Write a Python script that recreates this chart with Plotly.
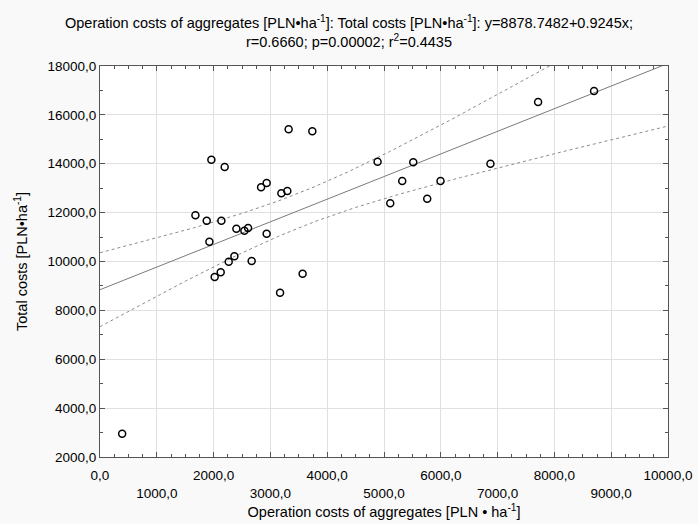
import numpy as np
import plotly.graph_objects as go

# Data
op_costs = [3321, 3738, 1961, 2195, 2836, 2934, 3193, 3298, 4887, 5321, 5110,
            1680, 1879, 2137, 2401, 2542, 2607, 2934, 1926, 2366, 2266, 2670,
            2125, 2019, 3567, 3170, 5515, 5995, 5761, 6874, 7713, 8698, 390]
total_costs = [15410, 15328, 14166, 13867, 13036, 13212, 12791, 12885, 14084, 13294, 12382,
               11891, 11670, 11670, 11342, 11260, 11371, 11138, 10810, 10213, 9992, 10021,
               9558, 9366, 9501, 8723, 14059, 13294, 12570, 14002, 16527, 16977, 2954]

x_ticks = [0, 1000, 2000, 3000, 4000, 5000, 6000, 7000, 8000, 9000, 10000]
y_ticks = [2000, 4000, 6000, 8000, 10000, 12000, 14000, 16000, 18000]

x = np.array(op_costs, float)
y = np.array(total_costs, float)
n = len(x)
slope, intercept = np.polyfit(x, y, 1)
resid = y - (intercept + slope * x)
s = np.sqrt(np.sum(resid ** 2) / (n - 2))
t_val = 2.0395
xm = x.mean()
sxx = np.sum((x - xm) ** 2)
xs = np.linspace(0, 10000, 201)
ys = intercept + slope * xs
half = t_val * s * np.sqrt(1.0 / n + (xs - xm) ** 2 / sxx)

def fmt(v):
    return f"{v:.1f}".replace(".", ",")

x_text = [fmt(v) if i % 2 == 0 else "<br>" + fmt(v) for i, v in enumerate(x_ticks)]
y_text = [fmt(v) for v in y_ticks]

fig = go.Figure()
fig.add_trace(go.Scatter(x=xs, y=ys + half, mode="lines",
                         line=dict(color="#8c8c8c", width=1, dash="dot"), hoverinfo="skip"))
fig.add_trace(go.Scatter(x=xs, y=ys - half, mode="lines",
                         line=dict(color="#8c8c8c", width=1, dash="dot"), hoverinfo="skip"))
fig.add_trace(go.Scatter(x=xs, y=ys, mode="lines",
                         line=dict(color="#7a7a7a", width=1), hoverinfo="skip"))
fig.add_trace(go.Scatter(x=op_costs, y=total_costs, mode="markers",
                         marker=dict(symbol="circle-open", size=7, color="black",
                                     line=dict(width=1.5, color="black"))))

font_family = "Liberation Sans, Arial, sans-serif"
fig.update_layout(
    width=698, height=524,
    margin=dict(l=100, r=30, t=66, b=67),
    paper_bgcolor="#f9f9f9", plot_bgcolor="white",
    showlegend=False,
    font=dict(family=font_family, size=13, color="black"),
    title=dict(
        text="Operation costs of aggregates [PLN•ha<sup>-1</sup>]: Total costs [PLN•ha<sup>-1</sup>]: y=8878.7482+0.9245x;<br>r=0.6660; p=0.00002; r<sup>2</sup>=0.4435",
        x=0.5, xanchor="center", y=0.946, yanchor="top",
        font=dict(size=14.5, family=font_family)),
)
fig.update_xaxes(
    range=[0, 10000], tickvals=x_ticks, ticktext=x_text,
    showgrid=True, gridcolor="#e0e0e0", gridwidth=1, zeroline=False,
    showline=True, linecolor="#555555", linewidth=1, mirror="ticks",
    ticks="inside", ticklen=5, tickcolor="#555555",
    minor=dict(dtick=250, tick0=0, ticks="inside", ticklen=3, tickcolor="#555555", showgrid=False),
    title=dict(text="Operation costs of aggregates [PLN • ha<sup>-1</sup>]", standoff=7,
               font=dict(size=14.5)),
    tickfont=dict(size=13.5),
    ticklabelstandoff=6,
    automargin=False,
)
fig.update_yaxes(
    range=[2000, 18000], tickvals=y_ticks, ticktext=y_text,
    showgrid=True, gridcolor="#e0e0e0", gridwidth=1, zeroline=False,
    showline=True, linecolor="#555555", linewidth=1, mirror="ticks",
    ticks="inside", ticklen=5, tickcolor="#555555",
    minor=dict(dtick=1000, tick0=0, ticks="inside", ticklen=3, tickcolor="#555555", showgrid=False),
    title=dict(text="Total costs [PLN•ha<sup>-1</sup>]", standoff=16, font=dict(size=14.5)),
    tickfont=dict(size=13.5),
    automargin=False,
)
fig.write_html("out.html")
